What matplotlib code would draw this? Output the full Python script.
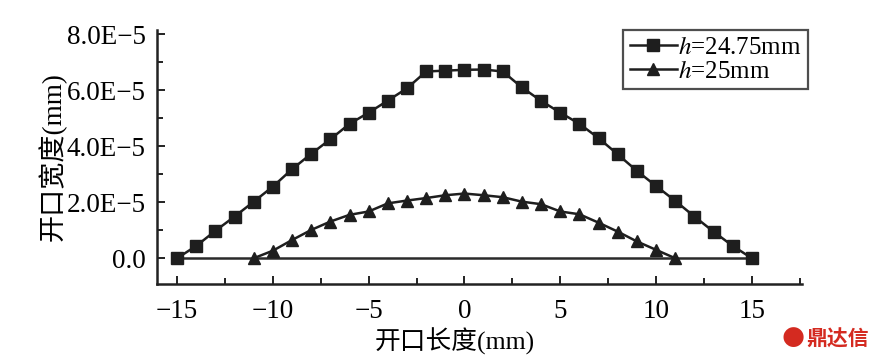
import matplotlib
matplotlib.use("Agg")
import matplotlib.pyplot as plt
from matplotlib.ticker import FixedLocator, MultipleLocator, FixedFormatter

# Data
x_a = list(range(-15, 16))
y_a = [0.0, 0.44, 0.98, 1.49, 2.02, 2.56, 3.18, 3.73, 4.25, 4.80, 5.20, 5.63, 6.07, 6.67, 6.70,
       6.73, 6.74, 6.67, 6.10, 5.62, 5.20, 4.80, 4.29, 3.71, 3.12, 2.58, 2.05, 1.49, 0.95, 0.44, 0.0]
x_b = list(range(-11, 12))
y_b = [0.0, 0.27, 0.65, 1.01, 1.31, 1.55, 1.67, 1.96, 2.06, 2.15, 2.25, 2.31,
       2.25, 2.18, 2.02, 1.93, 1.67, 1.57, 1.27, 0.95, 0.60, 0.30, 0.0]
baseline_x = [-15, 15]
baseline_y = [0.0, 0.0]
scale = 1e-5
labels = ["$h$=24.75mm", "$h$=25mm"]
x_ticks = [-15, -10, -5, 0, 5, 10, 15]
x_ticklabels = ["\u221215", "\u221210", "\u22125", "0", "5", "10", "15"]
y_ticks = [0, 2e-5, 4e-5, 6e-5, 8e-5]
y_ticklabels = ["0.0", "2.0E\u22125", "4.0E\u22125", "6.0E\u22125", "8.0E\u22125"]

serif = ["Liberation Serif", "DejaVu Serif"]
cjk = ["Liberation Serif", "Noto Sans CJK SC", "DejaVu Sans"]
plt.rcParams["mathtext.fontset"] = "stix"

fig = plt.figure(figsize=(8.79, 3.62), dpi=100)
ax = fig.add_axes([0.1786, 0.2155, 0.912 - 0.1786, 0.917 - 0.2155])

ax.plot(baseline_x, baseline_y, color="#2a2a2a", lw=1.8, zorder=1)
ax.plot(x_a, [v * scale for v in y_a], color="#1e1e1e", lw=1.8, marker="s",
        markersize=8.3, label=labels[0], zorder=3)
ax.plot(x_b, [v * scale for v in y_b], color="#1e1e1e", lw=1.8, marker="^",
        markersize=9, label=labels[1], zorder=3)

ax.set_xlim(-16.05, 17.6)
ax.set_ylim(-0.92e-5, 8.15e-5)

for s in ["top", "right"]:
    ax.spines[s].set_visible(False)
for s in ["left", "bottom"]:
    ax.spines[s].set_linewidth(1.8)
    ax.spines[s].set_color("#222222")

ax.xaxis.set_major_locator(FixedLocator(x_ticks))
ax.xaxis.set_major_formatter(FixedFormatter(x_ticklabels))
ax.xaxis.set_minor_locator(MultipleLocator(2.5))
ax.yaxis.set_major_locator(FixedLocator(y_ticks))
ax.yaxis.set_major_formatter(FixedFormatter(y_ticklabels))
ax.yaxis.set_minor_locator(MultipleLocator(1e-5))

ax.tick_params(which="both", direction="in", width=1.4, color="#222222")
ax.tick_params(which="major", length=6)
ax.tick_params(which="minor", length=4)
ax.tick_params(axis="x", which="major", pad=11, labelsize=19.5)
ax.tick_params(axis="y", which="major", pad=8, labelsize=19.5)
for lab in ax.get_xticklabels() + ax.get_yticklabels():
    lab.set_family(serif)

ax.set_xlabel("开口长度(mm)", family=cjk, fontsize=18.5)
ax.xaxis.set_label_coords(0.462, -0.225)
ax.xaxis.label.set_va("center")
ax.set_ylabel("开口宽度(mm)", family=cjk, fontsize=19.5, labelpad=0)

leg = ax.legend(loc="upper right", bbox_to_anchor=(1.01, 1.0), frameon=True, fancybox=False,
                edgecolor="#222222", handlelength=1.9, borderpad=0.25,
                labelspacing=0.05, handletextpad=0.05, borderaxespad=0.0,
                prop={"family": serif, "size": 18})
leg.get_frame().set_linewidth(1.6)

fig.text(0.988, 0.035, "鼎达信", color="#d42a20", fontsize=15, fontweight="bold",
         family=["Noto Sans CJK SC"], ha="right", va="bottom")
fig.text(0.915, 0.032, "\u25cf", color="#d42a20", fontsize=19,
         family=["DejaVu Sans"], ha="right", va="bottom")

fig.savefig("out.png", dpi=100)
